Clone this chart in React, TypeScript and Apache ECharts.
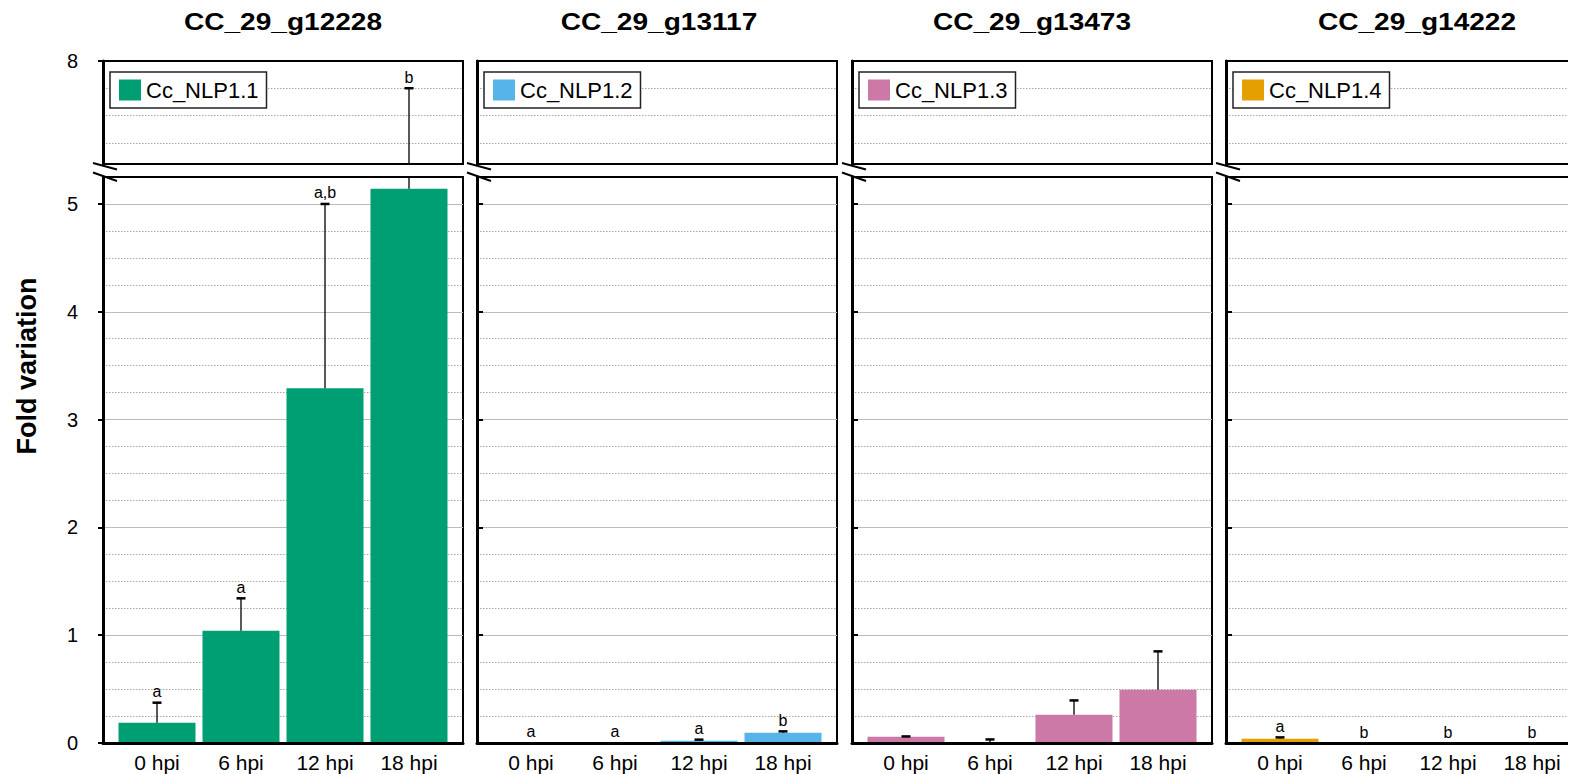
import React, { useEffect, useRef } from 'react';
import * as echarts from 'echarts';

// ---------- data ----------
const categories = ['0 hpi', '6 hpi', '12 hpi', '18 hpi'];
const geneIds = ['CC_29_g12228', 'CC_29_g13117', 'CC_29_g13473', 'CC_29_g14222'];
const seriesNames = ['Cc_NLP1.1', 'Cc_NLP1.2', 'Cc_NLP1.3', 'Cc_NLP1.4'];
const colors = ['#009E73', '#56B4E9', '#CC79A7', '#E69F00'];

const meanNLP11 = [0.188, 1.042, 3.29, 5.14];
const errNLP11 = [0.186, 0.3, 1.71, 2.61];
const lettersNLP11 = ['a', 'a', 'a,b', 'b'];

const meanNLP12 = [0.004, 0.002, 0.021, 0.096];
const errNLP12 = [0, 0, 0.01, 0.012];
const lettersNLP12 = ['a', 'a', 'a', 'b'];

const meanNLP13 = [0.058, 0.003, 0.263, 0.495];
const errNLP13 = [0.003, 0.03, 0.132, 0.355];
const lettersNLP13 = ['', '', '', ''];

const meanNLP14 = [0.04, 0, 0, 0];
const errNLP14 = [0.012, 0, 0, 0];
const lettersNLP14 = ['a', 'b', 'b', 'b'];

const lowerTickValues = [0, 1, 2, 3, 4, 5];
const upperTickValues = [8];

const panelData = [
  { mean: meanNLP11, err: errNLP11, letters: lettersNLP11 },
  { mean: meanNLP12, err: errNLP12, letters: lettersNLP12 },
  { mean: meanNLP13, err: errNLP13, letters: lettersNLP13 },
  { mean: meanNLP14, err: errNLP14, letters: lettersNLP14 },
];

// ---------- layout ----------
const FONT = 'Arial, "Liberation Sans", Helvetica, sans-serif';
const VIEW_W = 1577;
const VIEW_H = 774;
const CHART_W = 1720; // the last panel runs past the right edge of the picture
const PANEL_LEFT = [103, 477, 852, 1226];
const PANEL_W = 360;
const EXTRA_SLOTS = [0, 0, 0, 1];
const TITLE_CENTER = [283, 659, 1032, 1417];
const SLOT_W = 84;
const BAR_INSET = 12;
const UP_TOP = 61;
const UP_H = 103;
const UP_UNIT_H = 109; // px for one unit in the upper part
const LOW_TOP = 177;
const LOW_H = 566;
const LOW_MAX = 5.25;
const UP_MAX = 8;
const UP_MIN = UP_MAX - UP_H / UP_UNIT_H;
const EDGE_MASK_X = 1568;

function makeErrRender(letters: string[], lo: number, hi: number) {
  return (params: any, api: any) => {
    const i = api.value(0);
    const m = api.value(1);
    const e = api.value(2);
    const top = m + e;
    const children: any[] = [];
    const x = api.coord([i, lo])[0];
    if (e > 0) {
      const v0 = Math.max(m, lo);
      const v1 = Math.min(top, hi);
      if (v1 > v0) {
        const y0 = api.coord([i, v0])[1];
        const y1 = api.coord([i, v1])[1];
        children.push({ type: 'line', shape: { x1: x, y1: y0, x2: x, y2: y1 }, style: { stroke: '#000', lineWidth: 1.3 } });
      }
      if (top >= lo && top <= hi) {
        const yc = api.coord([i, top])[1];
        children.push({ type: 'line', shape: { x1: x - 4.5, y1: yc, x2: x + 4.5, y2: yc }, style: { stroke: '#000', lineWidth: 2.5 } });
      }
    }
    const letter = letters[params.dataIndex];
    const lv = e > 0 ? top : m;
    if (letter && lv >= lo && lv <= hi) {
      const yl = api.coord([i, lv])[1];
      children.push({
        type: 'text',
        style: { text: letter, x, y: yl - 3, align: 'center', verticalAlign: 'bottom', fontSize: 16, fontFamily: FONT, fill: '#000' },
      });
    }
    return { type: 'group', children };
  };
}

function buildOption() {
  const grid: any[] = [];
  const xAxis: any[] = [];
  const yAxis: any[] = [];
  const series: any[] = [];
  const legend: any[] = [];
  const graphic: any[] = [];

  panelData.forEach((pd, p) => {
    const L = PANEL_LEFT[p];
    const extra = EXTRA_SLOTS[p];
    const barCats = extra ? [...categories, ...Array(extra).fill('')] : categories;
    const barW = SLOT_W * barCats.length;
    const g0 = grid.length;
    const base = { outerBoundsMode: 'none', containLabel: false };
    grid.push({ ...base, left: L, top: UP_TOP, width: PANEL_W, height: UP_H, show: true, borderColor: '#000', borderWidth: 2 });
    grid.push({ ...base, left: L, top: UP_TOP, width: PANEL_W, height: UP_UNIT_H, show: false });
    grid.push({ ...base, left: L + BAR_INSET, top: UP_TOP, width: barW, height: UP_H, show: false });
    grid.push({ ...base, left: L, top: LOW_TOP, width: PANEL_W, height: LOW_H, show: true, borderColor: '#000', borderWidth: 2 });
    grid.push({ ...base, left: L + BAR_INSET, top: LOW_TOP, width: barW, height: LOW_H, show: false });

    const x0 = xAxis.length;
    xAxis.push({ gridIndex: g0, type: 'value', min: 0, max: 1, show: false });
    xAxis.push({ gridIndex: g0 + 1, type: 'value', min: 0, max: 1, show: false });
    xAxis.push({ gridIndex: g0 + 2, type: 'category', data: barCats, show: false });
    xAxis.push({
      gridIndex: g0 + 3, type: 'value', min: 0, max: 1, z: 5,
      axisLine: { show: true, onZero: false, lineStyle: { color: '#000', width: 3 } },
      axisTick: { show: false }, axisLabel: { show: false }, splitLine: { show: false },
    });
    xAxis.push({
      gridIndex: g0 + 4, type: 'category', data: barCats,
      axisLine: { show: false }, axisTick: { show: false },
      axisLabel: { fontSize: 21, color: '#000', margin: 9, fontFamily: FONT },
    });

    const tickStyle = { show: true, inside: p > 0, length: p > 0 ? 6 : 5, lineStyle: { color: '#000', width: 2 } };
    const labelStyle = { show: p === 0, fontSize: 20, color: '#000', margin: 25, fontFamily: FONT };

    const y0 = yAxis.length;
    // upper frame axis
    yAxis.push({
      gridIndex: g0, type: 'value', min: UP_MIN, max: UP_MAX, z: 5,
      axisLine: { show: true, lineStyle: { color: '#000', width: 3 } },
      axisTick: { ...tickStyle, customValues: upperTickValues },
      axisLabel: { ...labelStyle, customValues: upperTickValues, formatter: (v: number) => (Math.abs(v - 8) < 1e-6 ? '8' : '') },
      splitLine: { show: false },
    });
    // upper dotted grid lines
    yAxis.push({
      gridIndex: g0 + 1, type: 'value', min: 7, max: 8, interval: 0.25, z: 0,
      axisLine: { show: false }, axisTick: { show: false }, axisLabel: { show: false },
      splitLine: { show: true, showMinLine: false, showMaxLine: false, lineStyle: { color: '#a8a8a8', width: 1, type: [1.5, 1.5] } },
    });
    // upper bars axis
    yAxis.push({ gridIndex: g0 + 2, type: 'value', min: UP_MIN, max: UP_MAX, show: false });
    // lower frame axis (labels, ticks, solid lines)
    yAxis.push({
      gridIndex: g0 + 3, type: 'value', min: 0, max: LOW_MAX, interval: 1, z: 1,
      axisLine: { show: true, lineStyle: { color: '#000', width: 3 } },
      axisTick: { ...tickStyle, customValues: lowerTickValues },
      axisLabel: { ...labelStyle, customValues: lowerTickValues, showMaxLabel: true },
      splitLine: { show: true, showMinLine: false, showMaxLine: true, lineStyle: { color: '#bdbdbd', width: 1 } },
    });
    // lower dotted lines
    yAxis.push({
      gridIndex: g0 + 3, type: 'value', min: 0, max: LOW_MAX, interval: 0.25, z: 0, position: 'left',
      axisLine: { show: false }, axisTick: { show: false }, axisLabel: { show: false },
      splitLine: { show: true, showMinLine: false, showMaxLine: false, lineStyle: { color: '#a8a8a8', width: 1, type: [1.5, 1.5] } },
    });
    // lower bars axis
    yAxis.push({ gridIndex: g0 + 4, type: 'value', min: 0, max: LOW_MAX, show: false });

    const rows = pd.mean.map((m, i) => [i, m, pd.err[i]]);

    series.push({
      type: 'bar', name: seriesNames[p], xAxisIndex: x0 + 4, yAxisIndex: y0 + 5,
      data: pd.mean, barWidth: 77, itemStyle: { color: colors[p] }, z: 2,
    });
    series.push({
      type: 'custom', name: seriesNames[p] + ' SE', xAxisIndex: x0 + 4, yAxisIndex: y0 + 5,
      data: rows, renderItem: makeErrRender(pd.letters, 0, LOW_MAX), z: 4,
    });
    series.push({
      type: 'custom', name: seriesNames[p] + ' SE (upper)', xAxisIndex: x0 + 2, yAxisIndex: y0 + 2,
      data: rows, renderItem: makeErrRender(pd.letters, UP_MIN, UP_MAX), z: 4,
    });

    legend.push({
      data: [seriesNames[p]], left: L + 7, top: 72, padding: [7, 8, 7, 9],
      itemWidth: 22, itemHeight: 21, icon: 'rect', selectedMode: false,
      borderColor: '#222', borderWidth: 1.5, backgroundColor: '#fff',
      textStyle: { fontSize: 22, color: '#000', fontFamily: FONT, lineHeight: 22 },
    });

    graphic.push({
      type: 'text', x: TITLE_CENTER[p], y: 22, scaleX: 1.17,
      style: { text: geneIds[p], align: 'center', verticalAlign: 'middle', fontSize: 24, fontWeight: 'bold', fontFamily: FONT, fill: '#000' },
    });
    graphic.push({ type: 'line', shape: { x1: L - 10, y1: 163, x2: L + 14, y2: 169.5 }, style: { stroke: '#000', lineWidth: 2 } });
    graphic.push({ type: 'line', shape: { x1: L - 10, y1: 172.5, x2: L + 14, y2: 181 }, style: { stroke: '#000', lineWidth: 2 } });
  });

  graphic.push({
    type: 'text', x: 27, y: 366, rotation: Math.PI / 2,
    style: { text: 'Fold variation', align: 'center', verticalAlign: 'middle', fontSize: 27, fontWeight: 'bold', fontFamily: FONT, fill: '#000' },
  });
  // white edge strip: the last panel is open on the right, as in the source figure
  graphic.push({
    type: 'rect', z: 100, silent: true,
    shape: { x: EDGE_MASK_X, y: 50, width: CHART_W - EDGE_MASK_X, height: 700 },
    style: { fill: '#fff' },
  });

  return { animation: false, backgroundColor: '#fff', textStyle: { fontFamily: FONT }, grid, xAxis, yAxis, series, legend, graphic };
}

export default function App() {
  const ref = useRef<HTMLDivElement>(null);
  useEffect(() => {
    if (!ref.current) return;
    const chart = echarts.init(ref.current, undefined, { renderer: 'svg' });
    chart.setOption(buildOption() as any);
    return () => chart.dispose();
  }, []);
  return (
    <div style={{ position: 'absolute', left: 0, top: 0, width: VIEW_W, height: VIEW_H, overflow: 'hidden', background: '#fff' }}>
      <div ref={ref} style={{ width: CHART_W, height: VIEW_H }} />
    </div>
  );
}
